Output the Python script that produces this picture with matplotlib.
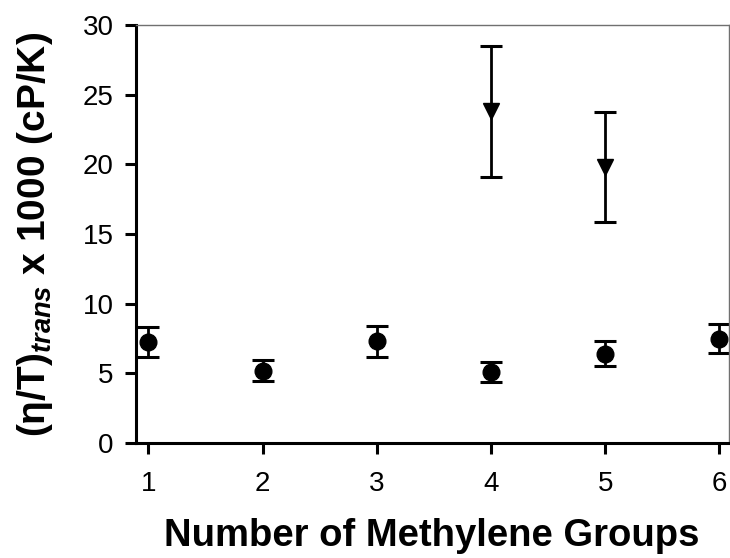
import numpy as np
import matplotlib.pyplot as plt

plt.rcParams['font.family'] = ['Liberation Sans', 'DejaVu Sans']
plt.rcParams['mathtext.fontset'] = 'custom'
plt.rcParams['mathtext.rm'] = 'Liberation Sans:bold'
plt.rcParams['mathtext.it'] = 'Liberation Sans:italic:bold'
plt.rcParams['mathtext.bf'] = 'Liberation Sans:bold'

# dados
grupos = [1, 2, 3, 4, 5, 6]
circ_val = [7.25, 5.2, 7.3, 5.1, 6.4, 7.5]
circ_err = [1.1, 0.75, 1.1, 0.7, 0.9, 1.05]

tri_x = [4, 5]
tri_val = [23.8, 19.8]
tri_err = [4.7, 3.95]

fig = plt.figure(figsize=(7.3, 5.58), dpi=100)
ax = fig.add_axes([0.186, 0.206, 0.812, 0.749])

ax.errorbar(grupos, circ_val, yerr=circ_err, fmt='o', color='black',
            markersize=12, elinewidth=2, capsize=8, capthick=2.2)
ax.errorbar(tri_x, tri_val, yerr=tri_err, fmt='v', color='black',
            markersize=11, elinewidth=2, capsize=8, capthick=2.2)

ax.set_xlim(0.89, 6.08)
ax.set_ylim(0, 30)
ax.set_xticks(grupos)
ax.set_yticks([0, 5, 10, 15, 20, 25, 30])

for s in ['left', 'bottom']:
    ax.spines[s].set_linewidth(2.2)
    ax.spines[s].set_color('black')
for s in ['top', 'right']:
    ax.spines[s].set_linewidth(1.0)
    ax.spines[s].set_color('#707070')

ax.tick_params(axis='both', direction='out', length=8, width=2.2,
               labelsize=20, colors='black')
ax.tick_params(axis='y', pad=8)
ax.tick_params(axis='x', pad=12)

ax.set_xlabel('Number of Methylene Groups', fontsize=27.5, fontweight='bold',
              labelpad=15)
ax.set_ylabel(r'(η/T)$_{trans}$ x 1000 (cP/K)', fontsize=28,
              fontweight='bold', labelpad=20)

fig.savefig('out.png', dpi=100)
